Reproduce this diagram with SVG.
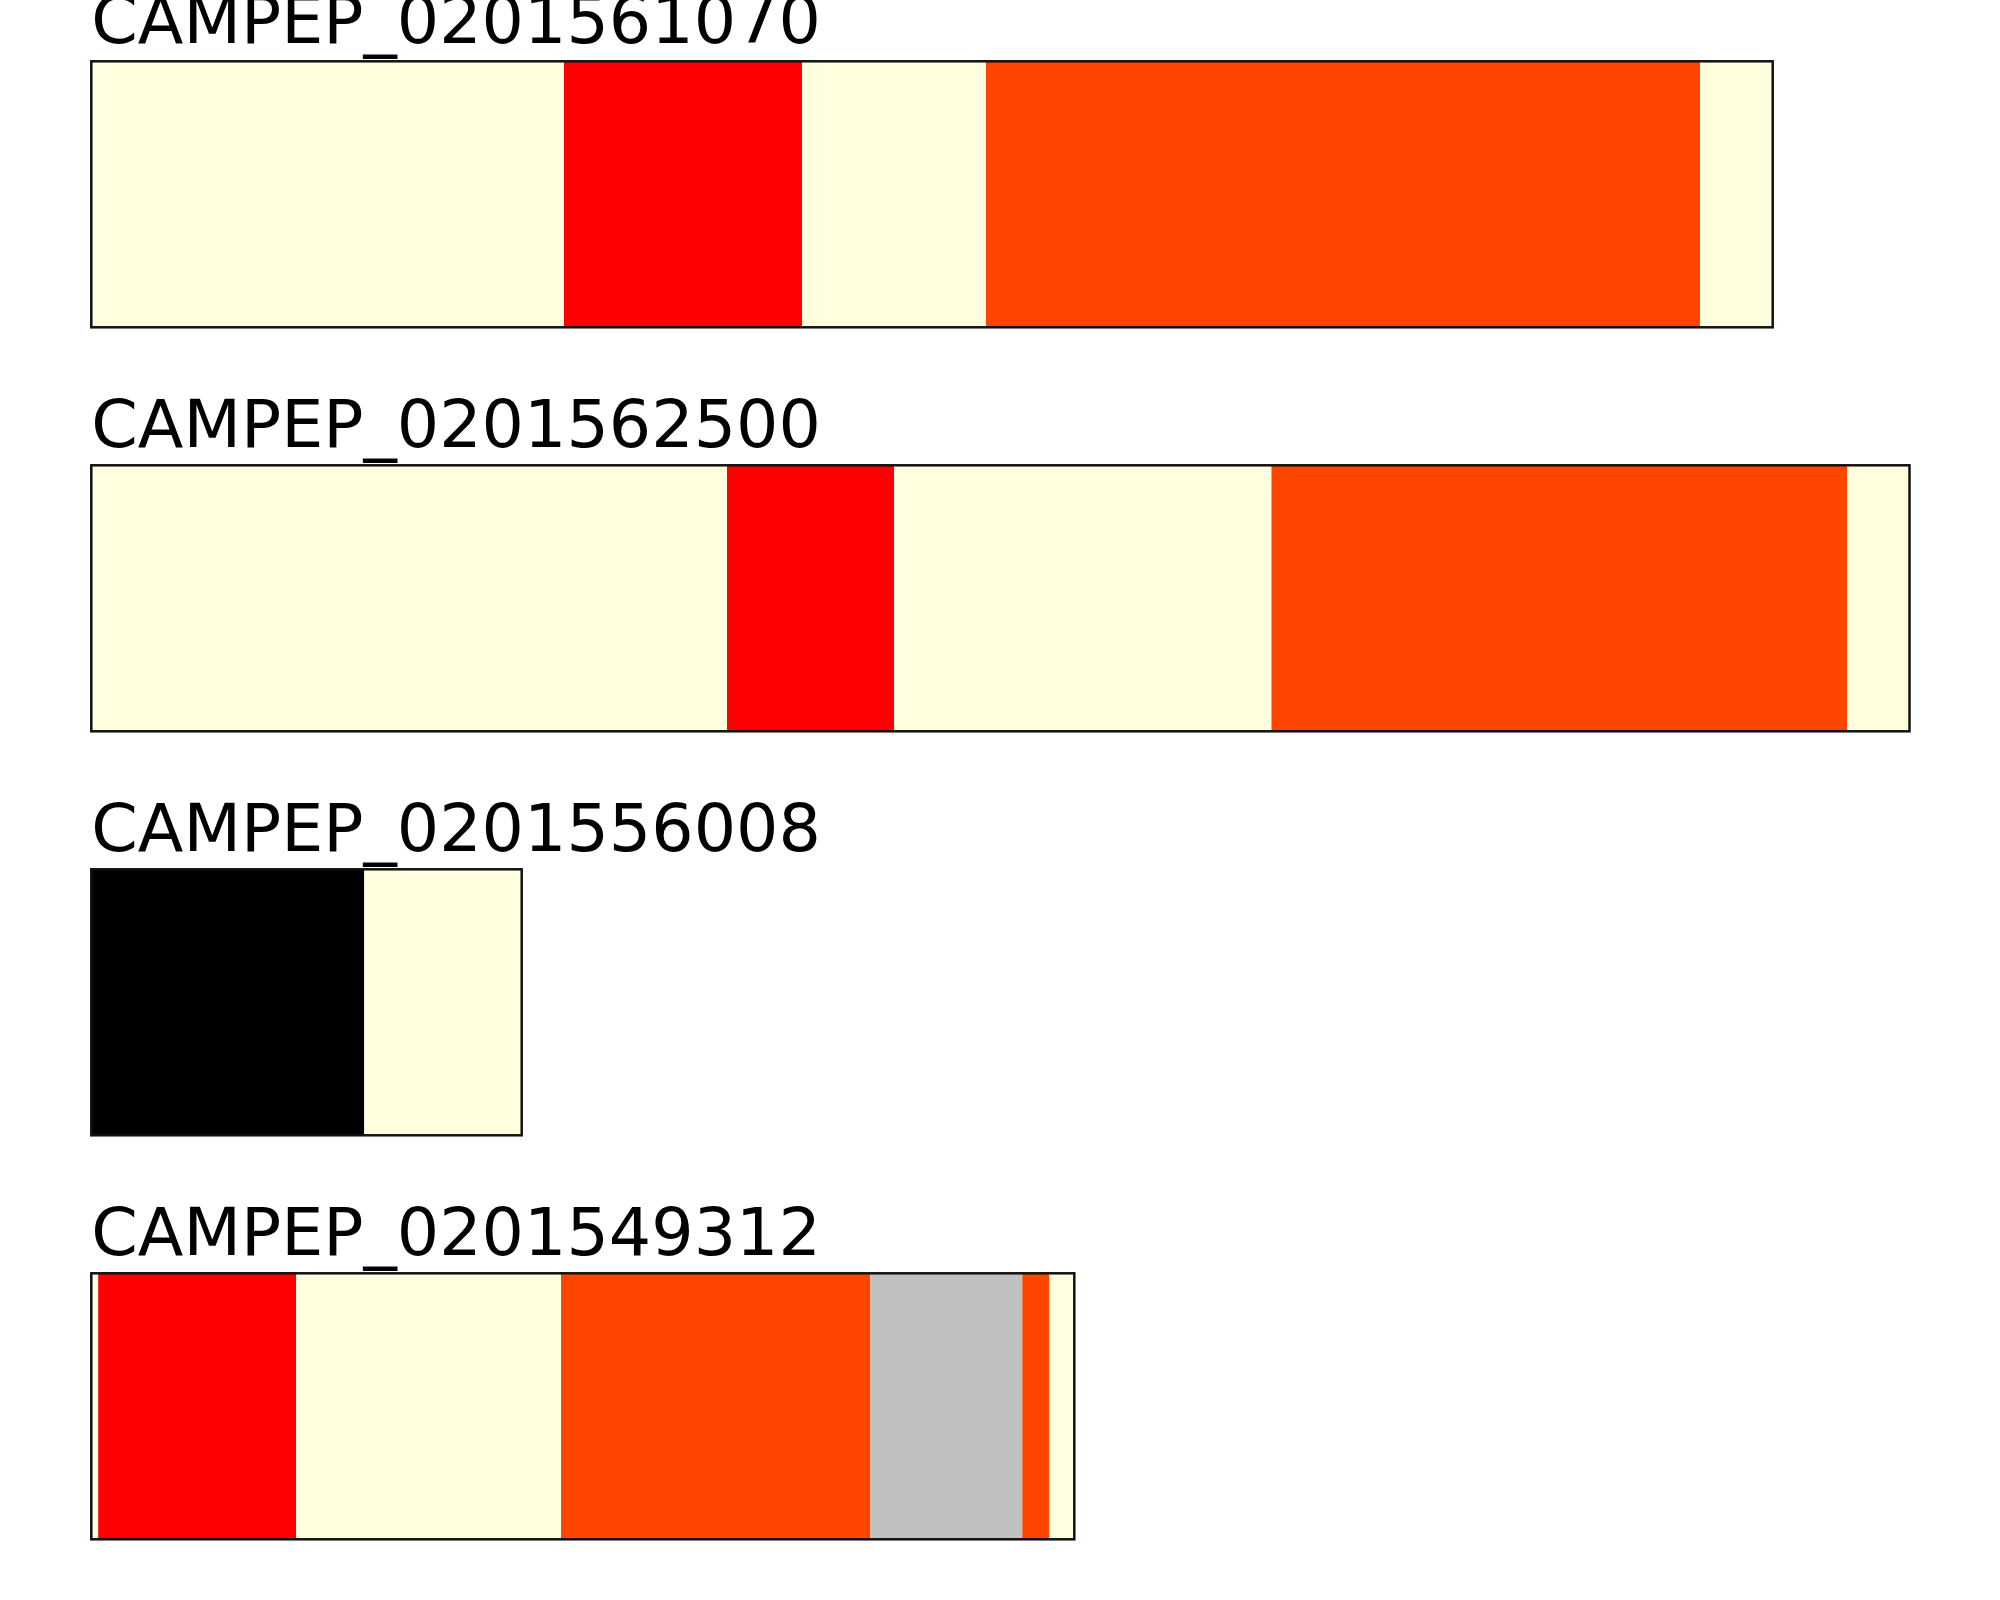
<svg xmlns="http://www.w3.org/2000/svg" width="2000" height="1600" viewBox="0 0 2000 1600">
<style>
.bg{fill:#ffffff}
.lbl{font-family:"DejaVu Sans","Liberation Sans",sans-serif;font-size:66.67px;fill:#000000}
.frame{fill:none;stroke:#111111;stroke-width:2.5}
.cr{fill:#FFFFE0}
.rd{fill:#FF0000}
.or{fill:#FF4500}
.gy{fill:#C0C0C0}
.bk{fill:#000000}
</style>
<rect class="bg" x="0" y="0" width="2000" height="1600"/>
<g id="track-0201561070">
<text class="lbl" x="91.3" y="43.3">CAMPEP_0201561070</text>
<rect class="cr" x="91.3" y="61.3" width="472.7" height="266"/>
<rect class="rd" x="564" y="61.3" width="238" height="266"/>
<rect class="cr" x="802" y="61.3" width="184" height="266"/>
<rect class="or" x="986" y="61.3" width="714" height="266"/>
<rect class="cr" x="1700" y="61.3" width="72.7" height="266"/>
<rect class="frame" x="91.3" y="61.3" width="1681.4" height="266"/>
</g>
<g id="track-0201562500">
<text class="lbl" x="91.3" y="447.3">CAMPEP_0201562500</text>
<rect class="cr" x="91.3" y="465.3" width="635.7" height="266"/>
<rect class="rd" x="727" y="465.3" width="167" height="266"/>
<rect class="cr" x="894" y="465.3" width="377.5" height="266"/>
<rect class="or" x="1271.5" y="465.3" width="575.5" height="266"/>
<rect class="cr" x="1847" y="465.3" width="62.5" height="266"/>
<rect class="frame" x="91.3" y="465.3" width="1818.2" height="266"/>
</g>
<g id="track-0201556008">
<text class="lbl" x="91.3" y="851.3">CAMPEP_0201556008</text>
<rect class="bk" x="91.3" y="869.3" width="273" height="266"/>
<rect class="cr" x="364.3" y="869.3" width="157.4" height="266"/>
<rect class="frame" x="91.3" y="869.3" width="430.4" height="266"/>
</g>
<g id="track-0201549312">
<text class="lbl" x="91.3" y="1255.3">CAMPEP_0201549312</text>
<rect class="cr" x="91.3" y="1273.3" width="6.9" height="266"/>
<rect class="rd" x="98.2" y="1273.3" width="197.8" height="266"/>
<rect class="cr" x="296" y="1273.3" width="265" height="266"/>
<rect class="or" x="561" y="1273.3" width="309.3" height="266"/>
<rect class="gy" x="870.3" y="1273.3" width="152" height="266"/>
<rect class="or" x="1022.3" y="1273.3" width="27" height="266"/>
<rect class="cr" x="1049.3" y="1273.3" width="25" height="266"/>
<rect class="frame" x="91.3" y="1273.3" width="983" height="266"/>
</g>
</svg>
